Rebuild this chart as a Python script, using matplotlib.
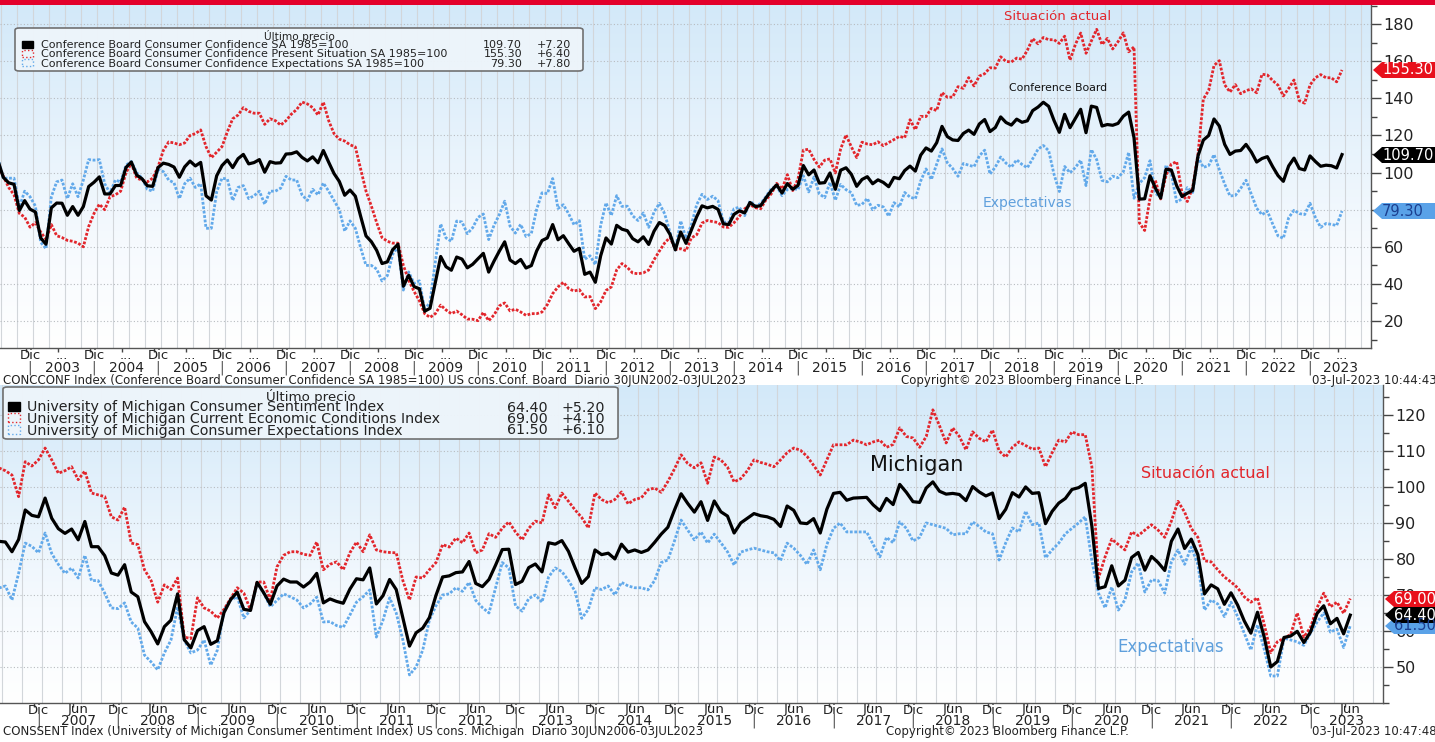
import numpy as np
import matplotlib
matplotlib.use("Agg")
import matplotlib.pyplot as plt
import matplotlib.transforms as mtrans
from matplotlib.patches import Polygon, Rectangle, FancyBboxPatch
from matplotlib.colors import LinearSegmentedColormap
from matplotlib.ticker import MultipleLocator

W, H = 1435, 742

# ---------------- data ----------------
cb_start = (2002, 6)   # monthly, first value = June 2002
cb_total = [
    106.3, 97.4, 94.5, 93.7, 79.6, 84.9, 80.3,
    78.8, 64.8, 61.4, 81.0, 83.6, 83.5, 77.0, 81.7, 77.0, 81.7, 92.5, 94.8,
    97.7, 88.5, 88.5, 93.0, 93.1, 102.8, 105.7, 98.7, 96.7, 92.9, 92.6, 102.7,
    105.1, 104.4, 103.0, 97.5, 103.1, 106.2, 103.6, 105.5, 87.5, 85.2, 98.3, 103.8,
    106.8, 102.7, 107.5, 109.8, 104.7, 105.4, 107.0, 100.2, 105.9, 105.1, 105.3, 110.0,
    110.2, 111.2, 108.2, 106.3, 108.5, 105.3, 111.9, 105.6, 99.5, 95.2, 87.8, 90.6,
    87.3, 76.4, 65.9, 62.8, 58.1, 51.0, 51.9, 58.5, 61.4, 38.8, 44.7, 38.6,
    37.4, 25.3, 26.9, 40.8, 54.8, 49.3, 47.4, 54.5, 53.4, 48.7, 50.6, 53.6,
    56.5, 46.4, 52.3, 57.7, 62.7, 52.9, 51.0, 53.2, 48.6, 49.9, 57.8, 63.4,
    64.8, 72.0, 63.8, 66.0, 61.7, 57.6, 59.2, 45.2, 46.4, 40.9, 55.2, 64.8,
    61.5, 71.6, 69.5, 68.7, 64.4, 62.7, 65.4, 61.3, 68.4, 73.1, 71.5, 66.7,
    58.4, 68.0, 61.9, 69.0, 76.2, 82.1, 81.0, 81.8, 80.2, 72.4, 72.0, 77.5,
    79.4, 78.3, 83.9, 81.7, 82.2, 86.4, 90.3, 93.4, 89.0, 94.1, 91.0, 93.1,
    103.8, 98.8, 101.4, 94.3, 94.6, 99.8, 91.0, 101.3, 102.6, 99.1, 92.6, 96.3,
    97.8, 94.0, 96.1, 94.7, 92.4, 97.4, 96.7, 101.1, 103.5, 100.8, 109.4, 113.3,
    111.6, 116.1, 124.9, 119.4, 117.6, 117.3, 121.1, 122.9, 120.6, 126.2, 128.6, 122.1,
    124.3, 130.0, 127.0, 125.6, 128.8, 127.1, 127.9, 133.4, 135.3, 137.9, 135.7, 128.1,
    121.7, 131.4, 124.2, 129.2, 134.1, 121.5, 135.8, 135.1, 125.1, 125.9, 125.5, 126.5,
    130.4, 132.6, 118.8, 85.7, 85.9, 98.3, 91.7, 86.3, 101.8, 101.4, 92.9, 87.1,
    88.9, 90.4, 109.0, 117.5, 120.0, 128.9, 125.1, 115.2, 109.8, 111.6, 111.9, 115.2,
    111.1, 105.7, 107.6, 108.6, 103.2, 98.4, 95.3, 103.6, 107.8, 102.2, 101.4, 109.0,
    106.0, 103.4, 104.0, 103.7, 102.5, 109.7,
]
cb_present = [
    104, 98, 92, 88, 78, 76, 70.6,
    73, 68, 64, 72, 66, 65, 63.5, 63, 62, 60, 71, 78,
    83, 80, 87, 88, 90, 100, 105, 97, 96, 95, 97, 103,
    112, 116.5, 116, 115, 116, 120, 121, 123, 114, 108, 111, 114,
    122, 129, 131, 135, 133, 132, 132, 126, 129, 128, 125.6, 128,
    131.5, 134, 138, 137, 135, 131, 138, 128, 121, 118, 117, 115,
    113.8, 102, 90, 82, 73, 65, 63, 62, 62, 50, 42, 36,
    31, 24, 22, 24, 28.6, 26, 24, 25.4, 23.4, 21.1, 21.0, 20.2,
    24.7, 20.2, 23.3, 28.2, 29.8, 25.5, 26.4, 24.9, 23.1, 24.0, 24.0, 24.9,
    28.9, 34.8, 38.4, 40.9, 37.5, 36.2, 36.9, 33.0, 33.2, 26.7, 30.4, 36.5,
    38.4, 47.6, 51.0, 48.9, 45.9, 45.5, 46.0, 47.5, 53.0, 57.7, 62.1, 65.1,
    58.6, 59.0, 57.9, 64.8, 66.5, 72.8, 74.2, 73.6, 73.1, 70.7, 70.5, 73.0,
    76.4, 80.5, 82.7, 81.1, 80.5, 85.4, 88.6, 94.2, 91.1, 98.9, 90.3, 96.5,
    112.1, 112.6, 107.1, 103.0, 106.7, 107.4, 99.8, 112.8, 120.3, 113.9, 108.1, 116.4,
    115.4, 115.0, 116.6, 114.5, 116.2, 117.8, 119.5, 118.8, 128.5, 123.1, 130.3, 130.2,
    134.6, 133.4, 143.1, 140.6, 140.7, 146.3, 145.4, 151.2, 146.7, 152.0, 153.3, 156.5,
    156.3, 162.4, 159.9, 159.6, 161.7, 161.1, 165.9, 172.2, 169.4, 172.8, 171.6, 171.6,
    169.6, 173.5, 160.6, 169.0, 175.2, 164.3, 170.9, 177.2, 169.0, 172.3, 166.6, 170.5,
    175.3, 165.1, 167.7, 73.0, 68.8, 86.2, 95.9, 85.8, 98.5, 104.6, 105.9, 89.0,
    84.4, 92.0, 110.1, 139.6, 144.3, 157.7, 160.3, 147.3, 143.4, 147.4, 142.5, 144.1,
    145.1, 143.0, 153.0, 152.6, 149.6, 147.1, 141.3, 145.4, 149.9, 138.7, 137.4, 147.2,
    151.1, 152.8, 151.1, 151.1, 148.9, 155.3,
]
cb_expect = [
    107.5, 97, 97, 97, 81.4, 90, 87,
    82, 62.5, 59, 87, 95, 96, 86, 94, 87, 96, 107, 106.7,
    107, 94, 89, 96, 95, 104, 106, 100, 97, 91, 90, 102,
    100.5, 96, 94.5, 86, 94, 97, 92, 94, 70, 70, 89.7, 97,
    96.5, 85, 92, 93, 86, 87.5, 90, 83, 90, 90, 91.6, 98,
    96, 96, 88, 85, 91, 88, 94.4, 90, 85, 80, 68.5, 74,
    70, 59.4, 50, 50, 48, 41.6, 44.5, 56, 60, 36.7, 46.5, 40.3,
    41.7, 26.2, 30.2, 52, 72.3, 64.8, 63, 73.9, 73.4, 67.1, 70.3, 75.9,
    77.7, 63.9, 71.6, 77.4, 84.6, 71.2, 67.4, 72.1, 65.6, 67.2, 80.3, 89.1,
    88.7, 96.8, 80.7, 82.7, 77.8, 71.9, 74.1, 53.3, 55.2, 50.4, 71.7, 83.7,
    76.9, 87.6, 81.8, 81.9, 76.7, 74.2, 78.3, 70.5, 78.7, 83.4, 77.8, 67.8,
    58.3, 74.0, 64.6, 71.8, 82.7, 88.3, 85.5, 87.3, 84.9, 73.5, 73.0, 80.5,
    81.4, 76.8, 84.7, 82.1, 83.3, 87.1, 91.4, 92.9, 87.6, 90.9, 91.5, 90.8,
    98.3, 89.6, 97.6, 88.5, 86.5, 94.7, 85.1, 93.6, 90.8, 89.2, 82.3, 82.9,
    86.1, 80.0, 82.4, 81.5, 76.5, 83.8, 81.5, 89.3, 86.8, 85.9, 95.5, 102.0,
    96.3, 104.6, 112.8, 105.3, 102.2, 98.0, 104.9, 104.0, 103.2, 109.0, 112.1, 99.2,
    103.0, 108.4, 105.1, 102.9, 106.9, 104.4, 102.6, 107.5, 112.6, 114.6, 111.8, 99.1,
    89.8, 103.3, 99.9, 102.7, 106.7, 93.0, 112.4, 107.0, 95.8, 95.0, 98.1, 97.2,
    100.5, 110.9, 86.2, 94.2, 97.3, 106.4, 88.9, 86.6, 104.0, 99.3, 84.2, 85.8,
    91.9, 89.3, 108.3, 102.8, 103.8, 109.7, 101.6, 93.8, 87.4, 87.7, 91.5, 95.9,
    88.4, 80.8, 77.3, 79.3, 72.3, 65.9, 64.6, 75.7, 79.7, 77.9, 77.4, 83.5,
    75.9, 70.5, 72.6, 72.1, 71.5, 79.3,
]

mi_start = (2006, 6)   # monthly, first value = June 2006
mi_sent = [
    84.9, 84.7, 82.0, 85.4, 93.6, 92.1, 91.7,
    96.9, 91.3, 88.4, 87.1, 88.3, 85.3, 90.4, 83.4, 83.4, 80.9, 76.1, 75.5,
    78.4, 70.8, 69.5, 62.6, 59.8, 56.4, 61.2, 63.0, 70.3, 57.6, 55.3, 60.1,
    61.2, 56.3, 57.3, 65.1, 68.7, 70.8, 66.0, 65.7, 73.5, 70.6, 67.4, 72.5,
    74.4, 73.6, 73.6, 72.2, 73.6, 76.0, 67.8, 68.9, 68.2, 67.7, 71.6, 74.5,
    74.2, 77.5, 67.5, 69.8, 74.3, 71.5, 63.7, 55.8, 59.5, 60.8, 63.7, 69.9,
    75.0, 75.3, 76.2, 76.4, 79.3, 73.2, 72.3, 74.3, 78.3, 82.6, 82.7, 72.9,
    73.8, 77.6, 78.6, 76.4, 84.5, 84.1, 85.1, 82.1, 77.5, 73.2, 75.1, 82.5,
    81.2, 81.6, 80.0, 84.1, 81.9, 82.5, 81.8, 82.5, 84.6, 86.9, 88.8, 93.6,
    98.1, 95.4, 93.0, 95.9, 90.7, 96.1, 93.1, 91.9, 87.2, 90.0, 91.3, 92.6,
    92.0, 91.7, 91.0, 89.0, 94.7, 93.5, 90.0, 89.8, 91.2, 87.2, 93.8, 98.2,
    98.5, 96.3, 96.9, 97.0, 97.1, 95.0, 93.4, 96.8, 95.1, 100.7, 98.5, 95.9,
    95.7, 99.7, 101.4, 98.8, 98.0, 98.2, 97.9, 96.2, 100.1, 98.6, 97.5, 98.3,
    91.2, 93.8, 98.4, 97.2, 100.0, 98.2, 98.4, 89.8, 93.2, 95.5, 96.8, 99.3,
    99.8, 101.0, 89.1, 71.8, 72.3, 78.1, 72.5, 74.1, 80.4, 81.8, 76.9, 80.7,
    79.0, 76.8, 84.9, 88.3, 82.9, 85.5, 81.2, 70.3, 72.8, 71.7, 67.4, 70.6,
    67.2, 62.8, 59.4, 65.2, 58.4, 50.0, 51.5, 58.2, 58.6, 59.9, 56.8, 59.7,
    64.9, 67.0, 62.0, 63.5, 59.2, 64.4,
]
mi_current = [
    105.3, 104.5, 103.3, 97.3, 107, 105.8, 107.5,
    110.8, 107.5, 103.8, 104.5, 105.6, 102, 104.4, 98.3, 97.8, 97.3, 91.7, 90.8,
    94.4, 84.4, 84, 77, 74, 68, 72.8, 71.5, 74.7, 58.3, 57.9, 69.2,
    66.4, 65.5, 63.6, 66, 69, 72, 70.5, 65.8, 73.6, 73.6, 68.6, 77.8,
    81, 82, 82, 81.3, 81, 84.7, 77, 78.5, 79.2, 77, 81.7, 84.7,
    82, 86.7, 82.5, 82, 81.8, 81.7, 74, 68.6, 75, 74.7, 77, 79,
    84, 83.3, 85.8, 84.5, 87.2, 81.7, 82.5, 87, 86, 88.5, 90.3, 87.5,
    85.3, 88.5, 90.5, 90, 97.8, 94.2, 98.3, 96, 93.6, 91.5, 88.6, 98.3,
    96.5, 95.6, 96.5, 98.6, 95.3, 96.5, 97, 99.2, 99.7, 98.5, 101.5, 105,
    108.9, 106.5, 105.3, 106.7, 101, 108.3, 107.5, 105.5, 101.4, 102.3, 104.5, 107.5,
    106.8, 106.3, 105.6, 107.5, 109.5, 110.8, 110.2, 108.5, 106, 103.3, 107.5, 111.7,
    111.7, 111.7, 113, 112.5, 111.7, 112.5, 113, 111, 111.8, 116.4, 114, 113.6,
    111, 114, 121.4, 117, 112.2, 116.4, 114, 110.3, 115.3, 113.5, 112.5, 115.8,
    110, 108.3, 111, 112.5, 111.5, 110.5, 110.8, 105.6, 109.5, 113, 112.5, 115.3,
    114.5, 114.5, 105.6, 74.7, 80.6, 85.5, 84, 82.5, 87.5, 86.5, 88, 89.5,
    88, 86, 90.5, 96, 93, 88.5, 86, 79.5, 79.2, 77, 75, 73.6,
    72, 69.5, 68, 69.2, 62, 54, 57, 58, 59, 65, 58.3, 61,
    66.5, 70.5, 66.7, 68, 64.9, 69.0,
]
mi_expect = [
    71.9, 72.5, 68.6, 76, 84.4, 83.5, 81.7,
    87.2, 81.5, 78.5, 76, 77.5, 74.7, 81, 74, 74, 70.5, 66.4, 66.2,
    67.8, 62.5, 60.8, 53.3, 51.4, 49.2, 53.9, 57.5, 66.7, 57.5, 53.9, 54.7,
    57.5, 50.5, 54.7, 65.8, 68.6, 69.5, 63.6, 65.8, 73.3, 70.5, 66.7, 68.5,
    70.3, 69.5, 68.6, 66.4, 67.5, 69.4, 62.5, 62.6, 61.5, 61, 64.4, 68,
    69.5, 71.4, 58.3, 63, 69.2, 65, 57.5, 47.8, 50, 54.7, 63, 67,
    70, 70.3, 72, 71, 73.5, 68.5, 66.5, 65, 72, 79, 77.5, 67,
    65.5, 69, 70, 68, 75, 77.5, 76.5, 74, 71, 63.5, 66, 72,
    71.5, 72.5, 70, 73.5, 72.5, 72, 72, 71.4, 74, 79, 79.7, 85,
    90.8, 88, 85.3, 87.5, 84.4, 86.9, 84.5, 82, 78.3, 81.9, 82.5, 83,
    82.5, 82, 81.7, 79.5, 84.4, 83, 81, 78.5, 82.5, 77, 84, 88.5,
    90, 87.5, 87.5, 87.5, 87.5, 84, 80.6, 86, 84.5, 90.3, 88.5, 85,
    86, 90, 89.5, 89, 88.5, 86.7, 87, 87, 90.3, 89, 87.5, 87,
    79.7, 84.5, 88.6, 87.5, 93.3, 89.5, 90, 80.3, 82.5, 84.4, 87, 88.5,
    90, 91.7, 79.5, 70.5, 66.4, 72.2, 65.8, 68.7, 76.4, 78.9, 70.8, 74.2,
    74, 70.5, 79.2, 82.5, 78.5, 83.3, 78.5, 65.8, 68.6, 67.5, 64, 68,
    64, 59.4, 54.7, 61.7, 55, 47.5, 47.5, 58, 57.5, 57, 56, 59.4,
    62.5, 65, 59.7, 60.5, 55.4, 61.5,
]

cb_names = ["Conference Board Consumer Confidence SA 1985=100",
            "Conference Board Consumer Confidence Present Situation SA 1985=100",
            "Conference Board Consumer Confidence Expectations SA 1985=100"]
cb_last = ["109.70", "155.30", "79.30"]
cb_chg = ["+7.20", "+6.40", "+7.80"]
mi_names = ["University of Michigan Consumer Sentiment Index",
            "University of Michigan Current Economic Conditions Index",
            "University of Michigan Consumer Expectations Index"]
mi_last = ["64.40", "69.00", "61.50"]
mi_chg = ["+5.20", "+4.10", "+6.10"]

RED = "#e2262c"
BLACK = "#000000"
BLUE = "#62a9ea"
TXTBLUE = "#5e9fdc"
FONT = "DejaVu Sans"
plt.rcParams['font.family'] = [FONT]


def month_ends(start, n):
    y, m = start
    return np.array([y + (m + i) / 12.0 for i in range(n)])


fig = plt.figure(figsize=(W / 100, H / 100), dpi=100)
fig.patch.set_facecolor("white")


def fx(x):
    return x / W


def fy(y):
    return 1 - y / H


def px_axes(left, top, right, bottom):
    return fig.add_axes([fx(left), fy(bottom), (right - left) / W, (bottom - top) / H])


# red band on top
fig.add_artist(Rectangle((0, fy(4.5)), 1, 4.5 / H, transform=fig.transFigure,
                         facecolor="#e3002b", edgecolor="none"))

bg_cmap = LinearSegmentedColormap.from_list(
    "bg", [(0, "#ffffff"), (0.3, "#f6fafe"), (1, "#d3e9f9")])


def setup_axes(ax, xlim, ylim, major, minor, grid_years):
    ax.set_xlim(*xlim)
    ax.set_ylim(*ylim)
    grad = np.linspace(0, 1, 256).reshape(-1, 1)
    ax.imshow(grad, aspect="auto", cmap=bg_cmap, origin="lower",
              extent=[xlim[0], xlim[1], ylim[0], ylim[1]], zorder=0)
    ax.set_xlim(*xlim)
    ax.set_ylim(*ylim)
    for yr in grid_years:
        for q in range(4):
            t = yr + q / 4 + 0.04
            if xlim[0] < t < xlim[1]:
                ax.axvline(t, color="#d2d6da", lw=0.8, zorder=1)
    ax.yaxis.tick_right()
    ax.yaxis.set_major_locator(MultipleLocator(major))
    ax.yaxis.set_minor_locator(MultipleLocator(minor))
    ax.grid(axis="y", which="major", color="#b8bcc0", lw=0.8, ls=(0, (1, 2)), zorder=1)
    ax.tick_params(axis="y", which="major", direction="out", length=7, width=1,
                   color="#444444", labelsize=11.5, labelcolor="#222222", pad=2)
    ax.tick_params(axis="y", which="minor", direction="out", length=4, width=1,
                   color="#444444")
    for s in ["top", "left"]:
        ax.spines[s].set_visible(False)
    for s in ["right", "bottom"]:
        ax.spines[s].set_color("#555555")
        ax.spines[s].set_linewidth(1.0)
    ax.set_facecolor("white")


def xlabel_rows(ax, xlim, years, small_labels, row1, row2, yr_size, small_size):
    t1 = ax.get_xaxis_transform() + mtrans.ScaledTranslation(0, -row1 / 100, fig.dpi_scale_trans)
    t2 = ax.get_xaxis_transform() + mtrans.ScaledTranslation(0, -row2 / 100, fig.dpi_scale_trans)
    ticks = []
    for pos, lab in small_labels:
        if xlim[0] < pos < xlim[1]:
            ax.text(pos, 0, lab, transform=t1, ha="center", va="center",
                    fontsize=small_size, color="#222222", clip_on=False)
            ticks.append(pos - 0.06)
    ax.set_xticks(ticks)
    ax.set_xticklabels([])
    ax.tick_params(axis="x", direction="out", length=3, width=1, color="#444444")
    for yr in years:
        lo, hi = max(yr, xlim[0]), min(yr + 1, xlim[1])
        ax.text((lo + hi) / 2, 0, str(yr), transform=t2, ha="center", va="center",
                fontsize=yr_size, color="#222222", clip_on=False)
        ax.text(yr, 0, "|", transform=t2, ha="center", va="center",
                fontsize=yr_size, color="#555555", clip_on=False)


def value_tag(y_px, x_tip, text, face, tcolor):
    h = 8
    pts = [(fx(x_tip), fy(y_px)), (fx(x_tip + 9), fy(y_px - h)), (fx(W), fy(y_px - h)),
           (fx(W), fy(y_px + h)), (fx(x_tip + 9), fy(y_px + h))]
    fig.add_artist(Polygon(pts, closed=True, transform=fig.transFigure,
                           facecolor=face, edgecolor="none", zorder=10))
    fig.text(fx(x_tip + 9), fy(y_px), text, ha="left", va="center", fontsize=10.5,
             color=tcolor, zorder=11)


def legend_box(x0, y0, x1, y1, title, title_base, title_size, rows_base, mk_x, name_x,
               val_x, chg_x, names, lasts, chgs, size, mk_w, mk_h, cap):
    fig.add_artist(FancyBboxPatch((fx(x0), fy(y1)), (x1 - x0) / W, (y1 - y0) / H,
                                  boxstyle="round,pad=0,rounding_size=0.003",
                                  transform=fig.transFigure, facecolor="#eef5fb",
                                  edgecolor="#6a6a6a", lw=1.2, alpha=0.95, zorder=8))
    fig.text(fx((x0 + x1) / 2), fy(title_base), title, ha="center", va="baseline",
             fontsize=title_size, color="#222222", zorder=9)
    styles = [(BLACK, "-", True), (RED, ":", False), (BLUE, ":", False)]
    for i, yb in enumerate(rows_base):
        col, ls, fill = styles[i]
        yc = yb - cap / 2
        fig.add_artist(Rectangle((fx(mk_x), fy(yc + mk_h / 2)), mk_w / W, mk_h / H,
                                 transform=fig.transFigure,
                                 facecolor=col if fill else "none", edgecolor=col,
                                 lw=1.0, ls=ls, zorder=9))
        fig.text(fx(name_x), fy(yb), names[i], ha="left", va="baseline", fontsize=size,
                 color="#222222", zorder=9)
        fig.text(fx(val_x), fy(yb), lasts[i], ha="right", va="baseline", fontsize=size,
                 color="#222222", zorder=9)
        fig.text(fx(chg_x), fy(yb), chgs[i], ha="right", va="baseline", fontsize=size,
                 color="#222222", zorder=9)


# ---------------- top panel: Conference Board ----------------
ax1 = px_axes(0, 5, 1371, 348)
xl1 = (2002.531, 2023.953)
setup_axes(ax1, xl1, (5.5, 190.3), 20, 10, range(2002, 2024))
top_ticks = list(range(20, 181, 20))
ax1.set_yticks(top_ticks)
# the 80 label sits under the expectations value tag in the reference
ax1.set_yticklabels(["" if v == 80 else str(v) for v in top_ticks])
t_cb = month_ends(cb_start, len(cb_total))
ax1.plot(t_cb, cb_expect, color=BLUE, lw=2.0, ls=(0, (1.0, 0.6)), zorder=3)
ax1.plot(t_cb, cb_present, color=RED, lw=2.0, ls=(0, (1.0, 0.6)), zorder=4)
ax1.plot(t_cb, cb_total, color=BLACK, lw=2.3, zorder=5)
ax1.text(2019.06, 184.3, "Situación actual", color=RED, fontsize=9.5,
         ha="center", va="center", zorder=6)
ax1.text(2019.06, 145.5, "Conference Board", color="#111111", fontsize=7.8,
         ha="center", va="center", zorder=6)
ax1.text(2018.59, 83.6, "Expectativas", color=TXTBLUE, fontsize=10,
         ha="center", va="center", zorder=6)
small1 = []
for yr in range(2002, 2024):
    small1.append((yr + 1.0, "Dic"))
    small1.append((yr + 0.5, "..."))
xlabel_rows(ax1, xl1, range(2003, 2024), small1, 8, 20, 10, 9.5)

# ---------------- bottom panel: Michigan ----------------
ax2 = px_axes(0, 385, 1383, 703)
xl2 = (2006.516, 2023.912)
setup_axes(ax2, xl2, (40.0, 128.3), 10, 5, range(2006, 2024))
ax2.set_yticks(range(50, 121, 10))
t_mi = month_ends(mi_start, len(mi_sent))
ax2.plot(t_mi, mi_expect, color=BLUE, lw=2.0, ls=(0, (1.0, 0.6)), zorder=3)
ax2.plot(t_mi, mi_current, color=RED, lw=2.0, ls=(0, (1.0, 0.6)), zorder=4)
ax2.plot(t_mi, mi_sent, color=BLACK, lw=2.3, zorder=5)
ax2.text(2018.05, 106.1, "Michigan", color="#111111", fontsize=15,
         ha="center", va="center", zorder=6)
ax2.text(2021.68, 103.6, "Situación actual", color=RED, fontsize=11.5,
         ha="center", va="center", zorder=6)
ax2.text(2021.24, 55.6, "Expectativas", color=TXTBLUE, fontsize=12,
         ha="center", va="center", zorder=6)
small2 = []
for yr in range(2006, 2024):
    small2.append((yr + 1.0, "Dic"))
    small2.append((yr + 0.5, "Jun"))
xlabel_rows(ax2, xl2, range(2007, 2024), small2, 7, 18, 10, 9.5)

# ---------------- legends ----------------
legend_box(15, 28, 583, 71, "Último precio", 39.5, 7.6, [48, 57.3, 66.6], 22, 41, 522, 571,
           cb_names, cb_last, cb_chg, 8.0, 11, 7, 8)
legend_box(3, 387, 618, 439, "Último precio", 401.5, 9.6, [411.5, 423, 434.5], 8, 27, 548,
           605, mi_names, mi_last, mi_chg, 10.3, 12, 9, 10.5)

# ---------------- last-value tags ----------------
value_tag(211, 1373, "79.30", "#5aa2e8", "#1b3f8f")
value_tag(155, 1373, "109.70", "#000000", "white")
value_tag(70, 1373, "155.30", "#e8101c", "white")
value_tag(626, 1385, "61.50", "#5aa2e8", "#1b3f8f")
value_tag(615, 1385, "64.40", "#000000", "white")
value_tag(599, 1385, "69.00", "#e8101c", "white")

# ---------------- footers ----------------
fs = 8.5
fig.text(fx(3), fy(380), "CONCCONF Index (Conference Board Consumer Confidence SA 1985=100) "
         "US cons.Conf. Board  Diario 30JUN2002-03JUL2023", ha="left", va="center",
         fontsize=fs, color="#222222")
fig.text(fx(1022), fy(380), "Copyright\u00a9 2023 Bloomberg Finance L.P.", ha="center",
         va="center", fontsize=fs, color="#222222")
fig.text(fx(1437), fy(380), "03-Jul-2023 10:44:43", ha="right", va="center",
         fontsize=fs, color="#222222")
fig.text(fx(3), fy(732), "CONSSENT Index (University of Michigan Consumer Sentiment Index) "
         "US cons. Michigan  Diario 30JUN2006-03JUL2023", ha="left", va="center",
         fontsize=fs, color="#222222")
fig.text(fx(1007), fy(732), "Copyright\u00a9 2023 Bloomberg Finance L.P.", ha="center",
         va="center", fontsize=fs, color="#222222")
fig.text(fx(1437), fy(732), "03-Jul-2023 10:47:48", ha="right", va="center",
         fontsize=fs, color="#222222")

fig.savefig("out.png", dpi=100)
